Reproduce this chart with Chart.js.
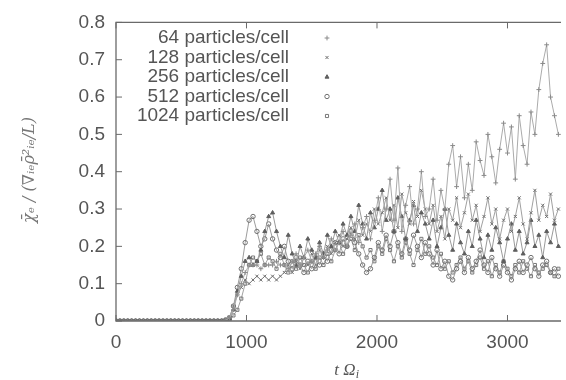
<!DOCTYPE html>
<html>
<head>
<meta charset="utf-8">
<script src="https://cdn.jsdelivr.net/npm/chart.js@4/dist/chart.umd.min.js"></script>
<style>
  body { margin: 0; background: #fff; }
  canvas { display: block; }
</style>
</head>
<body>
<canvas id="chi" width="566" height="380"></canvas>
<script>
// sample times (t Omega_i)
const times = [
  0, 30, 60, 90, 120, 150, 180, 210, 240, 270,
  300, 330, 360, 390, 420, 450, 480, 510, 540, 570,
  600, 630, 660, 690, 720, 750, 780, 810, 840, 870,
  900, 930, 960, 990, 1020, 1050, 1080, 1110, 1140, 1170,
  1200, 1230, 1260, 1290, 1320, 1350, 1380, 1410, 1440, 1470,
  1500, 1530, 1560, 1590, 1620, 1650, 1680, 1710, 1740, 1770,
  1800, 1830, 1860, 1890, 1920, 1950, 1980, 2010, 2040, 2070,
  2100, 2130, 2160, 2190, 2220, 2250, 2280, 2310, 2340, 2370,
  2400, 2430, 2460, 2490, 2520, 2550, 2580, 2610, 2640, 2670,
  2700, 2730, 2760, 2790, 2820, 2850, 2880, 2910, 2940, 2970,
  3000, 3030, 3060, 3090, 3120, 3150, 3180, 3210, 3240, 3270,
  3300, 3330, 3360, 3390
];

const labels = ['64 particles/cell', '128 particles/cell', '256 particles/cell', '512 particles/cell', '1024 particles/cell'];

const chi64 = [
  0, 0, 0, 0, 0, 0, 0, 0, 0, 0,
  0, 0, 0, 0, 0, 0, 0, 0, 0, 0,
  0, 0, 0, 0, 0, 0, 0, 0, 0.002, 0.008,
  0.03, 0.07, 0.1, 0.13, 0.15, 0.15, 0.15, 0.14, 0.15, 0.15,
  0.15, 0.16, 0.15, 0.15, 0.14, 0.16, 0.18, 0.15, 0.17, 0.19,
  0.16, 0.18, 0.2, 0.17, 0.19, 0.22, 0.19, 0.21, 0.24, 0.2,
  0.23, 0.26, 0.21, 0.25, 0.28, 0.22, 0.27, 0.33, 0.24, 0.3,
  0.38, 0.27, 0.41, 0.24, 0.31, 0.36, 0.26, 0.3, 0.4, 0.28,
  0.3, 0.38, 0.27, 0.35, 0.3, 0.42, 0.47, 0.36, 0.44, 0.33,
  0.42, 0.35, 0.48, 0.43, 0.39, 0.5, 0.44, 0.37, 0.46, 0.53,
  0.45, 0.52, 0.38, 0.55, 0.47, 0.42, 0.56, 0.5, 0.62, 0.69,
  0.74, 0.6, 0.55, 0.5
];

const chi128 = [
  0, 0, 0, 0, 0, 0, 0, 0, 0, 0,
  0, 0, 0, 0, 0, 0, 0, 0, 0, 0,
  0, 0, 0, 0, 0, 0, 0, 0, 0.003, 0.01,
  0.04, 0.07, 0.09, 0.11, 0.1, 0.11, 0.12, 0.11, 0.12, 0.11,
  0.12, 0.11, 0.12, 0.13, 0.15, 0.13, 0.16, 0.14, 0.17, 0.15,
  0.18, 0.15, 0.19, 0.17, 0.2, 0.18, 0.21, 0.23, 0.2, 0.22,
  0.25, 0.22, 0.27, 0.23, 0.26, 0.24, 0.3, 0.26, 0.29, 0.33,
  0.27, 0.31, 0.25, 0.34, 0.29, 0.26, 0.32, 0.28, 0.35, 0.3,
  0.26, 0.31, 0.24, 0.28, 0.22, 0.3, 0.27, 0.33, 0.25, 0.29,
  0.34, 0.27, 0.31, 0.24, 0.28, 0.33, 0.26, 0.3, 0.22, 0.27,
  0.3, 0.24, 0.28, 0.33, 0.26, 0.22, 0.29, 0.35, 0.27, 0.31,
  0.28, 0.34, 0.27, 0.3
];

const chi256 = [
  0, 0, 0, 0, 0, 0, 0, 0, 0, 0,
  0, 0, 0, 0, 0, 0, 0, 0, 0, 0,
  0, 0, 0, 0, 0, 0, 0, 0, 0.002, 0.006,
  0.03, 0.08, 0.12, 0.16, 0.17, 0.15, 0.16, 0.19, 0.24, 0.28,
  0.29, 0.24, 0.2, 0.17, 0.23, 0.18, 0.15, 0.2, 0.17, 0.22,
  0.19, 0.17, 0.21, 0.18, 0.23, 0.2, 0.24, 0.21, 0.26, 0.23,
  0.28, 0.24, 0.31, 0.26, 0.22, 0.29, 0.25, 0.3, 0.35, 0.27,
  0.3, 0.24, 0.33, 0.28, 0.22, 0.27, 0.31, 0.24, 0.29, 0.26,
  0.22, 0.27, 0.2, 0.25, 0.3, 0.23, 0.19, 0.26, 0.21, 0.18,
  0.24, 0.2, 0.27, 0.22, 0.17, 0.23, 0.19, 0.25, 0.21, 0.16,
  0.22, 0.26, 0.19, 0.24, 0.18, 0.21, 0.27, 0.2, 0.23, 0.17,
  0.24, 0.21, 0.26, 0.2
];

const chi512 = [
  0, 0, 0, 0, 0, 0, 0, 0, 0, 0,
  0, 0, 0, 0, 0, 0, 0, 0, 0, 0,
  0, 0, 0, 0, 0, 0, 0, 0, 0.003, 0.009,
  0.04, 0.09, 0.14, 0.21, 0.27, 0.28, 0.24, 0.2, 0.22, 0.26,
  0.22, 0.19, 0.17, 0.2, 0.16, 0.14, 0.17, 0.15, 0.13, 0.16,
  0.14, 0.17, 0.15, 0.18, 0.16, 0.19, 0.21, 0.18, 0.22, 0.2,
  0.24, 0.21, 0.18, 0.15, 0.13, 0.14, 0.17, 0.21, 0.19, 0.23,
  0.2, 0.24, 0.21, 0.18, 0.22, 0.19, 0.23, 0.2, 0.17, 0.21,
  0.18, 0.15, 0.19, 0.14, 0.16, 0.12, 0.11, 0.14, 0.16, 0.13,
  0.17, 0.14, 0.16, 0.19, 0.15, 0.13, 0.17, 0.14, 0.12, 0.15,
  0.13, 0.11, 0.14, 0.16, 0.13, 0.15, 0.17, 0.14, 0.12, 0.15,
  0.16, 0.13, 0.14, 0.12
];

const chi1024 = [
  0, 0, 0, 0, 0, 0, 0, 0, 0, 0,
  0, 0, 0, 0, 0, 0, 0, 0, 0, 0,
  0, 0, 0, 0, 0, 0, 0, 0, 0.001, 0.004,
  0.015, 0.03, 0.06, 0.1, 0.15, 0.17, 0.16, 0.18, 0.15, 0.17,
  0.16, 0.14, 0.18, 0.15, 0.13, 0.16, 0.14, 0.17, 0.15, 0.13,
  0.16, 0.14, 0.17, 0.15, 0.18, 0.16, 0.19, 0.21, 0.18, 0.2,
  0.22, 0.19, 0.23, 0.2, 0.17, 0.19, 0.16, 0.2, 0.18, 0.22,
  0.19, 0.16, 0.2, 0.17, 0.21, 0.18, 0.15, 0.19, 0.22, 0.18,
  0.2, 0.17, 0.15, 0.18, 0.14, 0.16, 0.13, 0.15, 0.17, 0.14,
  0.16, 0.13, 0.15, 0.17, 0.14, 0.16, 0.12, 0.15, 0.13, 0.16,
  0.14, 0.12, 0.15, 0.13, 0.16, 0.14, 0.12, 0.15, 0.13, 0.14,
  0.15, 0.13, 0.12, 0.14
];

const xTicks = [0, 1000, 2000, 3000];
const yTicks = [0, 0.1, 0.2, 0.3, 0.4, 0.5, 0.6, 0.7, 0.8];

const series = [chi64, chi128, chi256, chi512, chi1024];
const styles = [
  { point: 'cross', line: '#ababab', mark: '#8a8a8a', fill: false, r: 2.4 },
  { point: 'crossRot', line: '#a0a0a0', mark: '#6f6f6f', fill: false, r: 2.2 },
  { point: 'triangle', line: '#9a9a9a', mark: '#5e5e5e', fill: true, r: 2.3 },
  { point: 'circle', line: '#9c9c9c', mark: '#707070', fill: false, r: 2.2 },
  { point: 'rect', line: '#a2a2a2', mark: '#787878', fill: false, r: 2.2 }
];

function toPoints(vals) {
  return vals.map((v, i) => ({ x: times[i], y: v }));
}

const datasets = series.map((vals, k) => ({
  label: labels[k],
  data: toPoints(vals),
  borderColor: styles[k].line,
  borderWidth: 1,
  pointStyle: styles[k].point,
  pointRadius: styles[k].r,
  pointBorderWidth: 1,
  pointBorderColor: styles[k].mark,
  pointBackgroundColor: styles[k].fill ? styles[k].mark : 'rgba(0,0,0,0)',
  tension: 0
}));

const textColor = '#555';
const frameColor = '#6a6a6a';

// frame, inward ticks, axis titles and gnuplot-like legend
const decor = {
  id: 'decor',
  afterDraw(chart) {
    const ctx = chart.ctx;
    const a = chart.chartArea;
    const xs = chart.scales.x, ys = chart.scales.y;
    ctx.save();
    ctx.strokeStyle = frameColor;
    ctx.lineWidth = 1.3;
    ctx.beginPath();
    ctx.moveTo(a.right, a.top); ctx.lineTo(a.left, a.top);
    ctx.lineTo(a.left, a.bottom); ctx.lineTo(a.right, a.bottom);
    ctx.stroke();

    ctx.lineWidth = 1;
    ctx.beginPath();
    yTicks.forEach(v => {
      const y = ys.getPixelForValue(v);
      ctx.moveTo(a.left, y); ctx.lineTo(a.left + 6, y);
    });
    xTicks.forEach(v => {
      const x = xs.getPixelForValue(v);
      ctx.moveTo(x, a.bottom); ctx.lineTo(x, a.bottom - 6);
      ctx.moveTo(x, a.top); ctx.lineTo(x, a.top + 6);
    });
    ctx.stroke();

    // x title
    ctx.fillStyle = textColor;
    ctx.font = "italic 17px 'Liberation Serif', 'DejaVu Serif', serif";
    ctx.textBaseline = 'alphabetic';
    ctx.textAlign = 'left';
    const xt = 't \u03A9';
    const w = ctx.measureText(xt).width;
    const x0 = 345 - w / 2;
    ctx.fillText(xt, x0, 375);
    ctx.font = "italic 12px 'Liberation Serif', 'DejaVu Serif', serif";
    ctx.fillText('i', x0 + w, 378);

    // y title
    ctx.save();
    ctx.translate(34, 170);
    ctx.rotate(-Math.PI / 2);
    ctx.textAlign = 'center';
    ctx.font = "italic 16px 'DejaVu Serif', serif";
    ctx.fillStyle = '#777';
    ctx.fillText('\u03C7\u0304\u2091 / (\u2207\u1D62\u2091\u03C1\u0304\u00B2\u1D62\u2091/L)', 0, 0);
    ctx.restore();

    // legend
    ctx.font = "19px 'Liberation Sans', Arial, sans-serif";
    ctx.textAlign = 'right';
    ctx.textBaseline = 'middle';
    chart.data.datasets.forEach((ds, k) => {
      const y = 38 + k * 19.5;
      ctx.fillStyle = textColor;
      ctx.fillText(ds.label, 289, y);
      ctx.strokeStyle = ds.pointBorderColor;
      ctx.fillStyle = ds.pointBackgroundColor;
      ctx.lineWidth = 1;
      Chart.helpers.drawPoint(ctx, {
        pointStyle: ds.pointStyle, radius: ds.pointRadius, rotation: 0, borderWidth: 1
      }, 327, y);
    });
    ctx.restore();
  }
};

new Chart(document.getElementById('chi'), {
  type: 'line',
  data: { datasets: datasets },
  options: {
    responsive: false,
    animation: false,
    devicePixelRatio: 1,
    layout: { padding: { top: 19, right: 0, bottom: 0, left: 0 } },
    plugins: { legend: { display: false }, tooltip: { enabled: false } },
    scales: {
      x: {
        type: 'linear',
        min: 0,
        max: 3410,
        afterFit: s => { s.height = 59; },
        afterBuildTicks: s => { s.ticks = xTicks.map(v => ({ value: v })); },
        ticks: {
          color: textColor,
          padding: 10,
          font: { family: "'Liberation Sans', Arial, sans-serif", size: 19 },
          callback: v => String(v)
        },
        grid: { display: false, drawTicks: false },
        border: { display: false }
      },
      y: {
        min: 0,
        max: 0.8,
        afterFit: s => { s.width = 116; },
        afterBuildTicks: s => { s.ticks = yTicks.map(v => ({ value: v })); },
        ticks: {
          color: textColor,
          padding: 11,
          font: { family: "'Liberation Sans', Arial, sans-serif", size: 19 },
          callback: v => String(+v.toFixed(1))
        },
        grid: { display: false, drawTicks: false },
        border: { display: false }
      }
    }
  },
  plugins: [decor]
});
</script>
</body>
</html>
